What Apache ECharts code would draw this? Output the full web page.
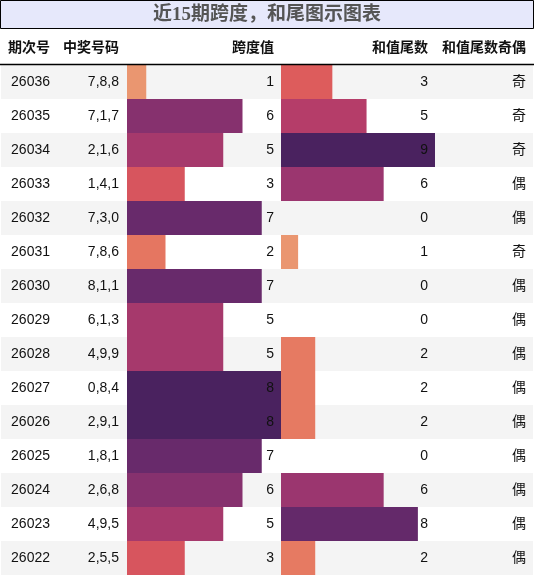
<!DOCTYPE html>
<html>
<head>
<meta charset="utf-8">
<script src="https://cdn.jsdelivr.net/npm/echarts@6/dist/echarts.min.js"></script>
<style>
html,body{margin:0;padding:0;background:#fff;}
#chart{width:534px;height:576px;}
</style>
</head>
<body>
<div id="chart"></div>
<script>
// ---- data ----
const periods = ['26036','26035','26034','26033','26032','26031','26030','26029','26028','26027','26026','26025','26024','26023','26022'];
const winNumbers = ['7,8,8','7,1,7','2,1,6','1,4,1','7,3,0','7,8,6','8,1,1','6,1,3','4,9,9','0,8,4','2,9,1','1,8,1','2,6,8','4,9,5','2,5,5'];
const spanValues = [1,6,5,3,7,2,7,5,5,8,8,7,6,5,3];
const tailValues = [3,5,9,6,0,1,0,0,2,2,2,0,6,8,2];
const parity = ['奇','奇','奇','偶','偶','奇','偶','偶','偶','偶','偶','偶','偶','偶','偶'];
const headers = ['期次号','中奖号码','跨度值','和值尾数','和值尾数奇偶'];
const titleText = '近15期跨度，和尾图示图表';

// ---- styles ----
const palette = ['#ea9670','#e67a62','#dd5c5c','#c94562','#b53d69','#9b366f','#7e2f6e','#64296a','#4a225f'];
const FONT = '"Liberation Sans", Arial, "Noto Sans CJK SC", sans-serif';
const ROW_TOP = 65, ROW_H = 510;
const textCols = [
  {data: periods, right: 50},
  {data: winNumbers, right: 119},
  {data: spanValues.map(String), right: 274},
  {data: tailValues.map(String), right: 428},
  {data: parity, right: 526}
];
const TEXT_GRID_LEFT = 526;

function colorScale(values) {
  const nz = values.filter(v => v > 0);
  const lo = Math.min(...nz), hi = Math.max(...nz);
  return p => {
    const t = hi > lo ? Math.max(0, Math.min(1, (p.value - lo) / (hi - lo))) : 0;
    return echarts.color.lerp(t, palette);
  };
}

const chart = echarts.init(document.getElementById('chart'), null, {renderer: 'canvas'});

const grids = [
  {left: 1, width: 532, top: ROW_TOP, height: ROW_H},          // 0 background stripes
  {left: 127, width: 154, top: ROW_TOP, height: ROW_H},        // 1 span bars
  {left: 281, width: 154, top: ROW_TOP, height: ROW_H},        // 2 tail bars
  {left: TEXT_GRID_LEFT, width: 1, top: ROW_TOP, height: ROW_H} // 3 text
];

const hiddenX = (gi, max) => ({gridIndex: gi, type: 'value', min: 0, max: max, show: false});
const catY = (gi, extra) => Object.assign({
  gridIndex: gi, type: 'category', data: periods, inverse: true,
  axisLine: {show: false}, axisTick: {show: false}, axisLabel: {show: false},
  splitLine: {show: false}
}, extra || {});

const yAxes = [
  catY(0, {splitArea: {show: true, areaStyle: {color: ['#f4f4f4', '#ffffff']}}}),
  catY(1),
  catY(2)
];
textCols.forEach(col => {
  yAxes.push({
    gridIndex: 3, type: 'category', data: col.data, inverse: true, position: 'left',
    offset: TEXT_GRID_LEFT - col.right, z: 10,
    axisLine: {show: false}, axisTick: {show: false}, splitLine: {show: false},
    axisLabel: {show: true, margin: 0, fontSize: 14, color: '#111', fontFamily: FONT, interval: 0}
  });
});

const graphic = [
  {type: 'rect', shape: {x: 0.5, y: 0.5, width: 533, height: 28}, style: {fill: '#e6e8fb', stroke: '#000', lineWidth: 1}, z: 5},
  {type: 'text', x: 267, y: 15, style: {text: titleText, fontSize: 19, fontWeight: 'bold', fill: '#555', align: 'center', verticalAlign: 'middle', fontFamily: '"Liberation Serif", "Noto Sans CJK SC", serif'}, z: 6},
  {type: 'line', shape: {x1: 0, y1: 64.5, x2: 534, y2: 64.5}, style: {stroke: '#000', lineWidth: 1.5}, z: 6}
];
headers.forEach((h, i) => {
  graphic.push({type: 'text', x: textCols[i].right, y: 48, style: {text: h, fontSize: 14, fontWeight: 'bold', fill: '#111', align: 'right', verticalAlign: 'middle', fontFamily: FONT}, z: 6});
});

chart.setOption({
  animation: false,
  backgroundColor: '#ffffff',
  grid: grids,
  xAxis: [hiddenX(0, 1), hiddenX(1, 8), hiddenX(2, 9), hiddenX(3, 1)],
  yAxis: yAxes,
  series: [
    {type: 'bar', xAxisIndex: 1, yAxisIndex: 1, data: spanValues, barWidth: '100%', barCategoryGap: 0,
     itemStyle: {color: colorScale(spanValues)}},
    {type: 'bar', xAxisIndex: 2, yAxisIndex: 2, data: tailValues, barWidth: '100%', barCategoryGap: 0,
     itemStyle: {color: colorScale(tailValues)}}
  ],
  graphic: graphic
});
</script>
</body>
</html>
